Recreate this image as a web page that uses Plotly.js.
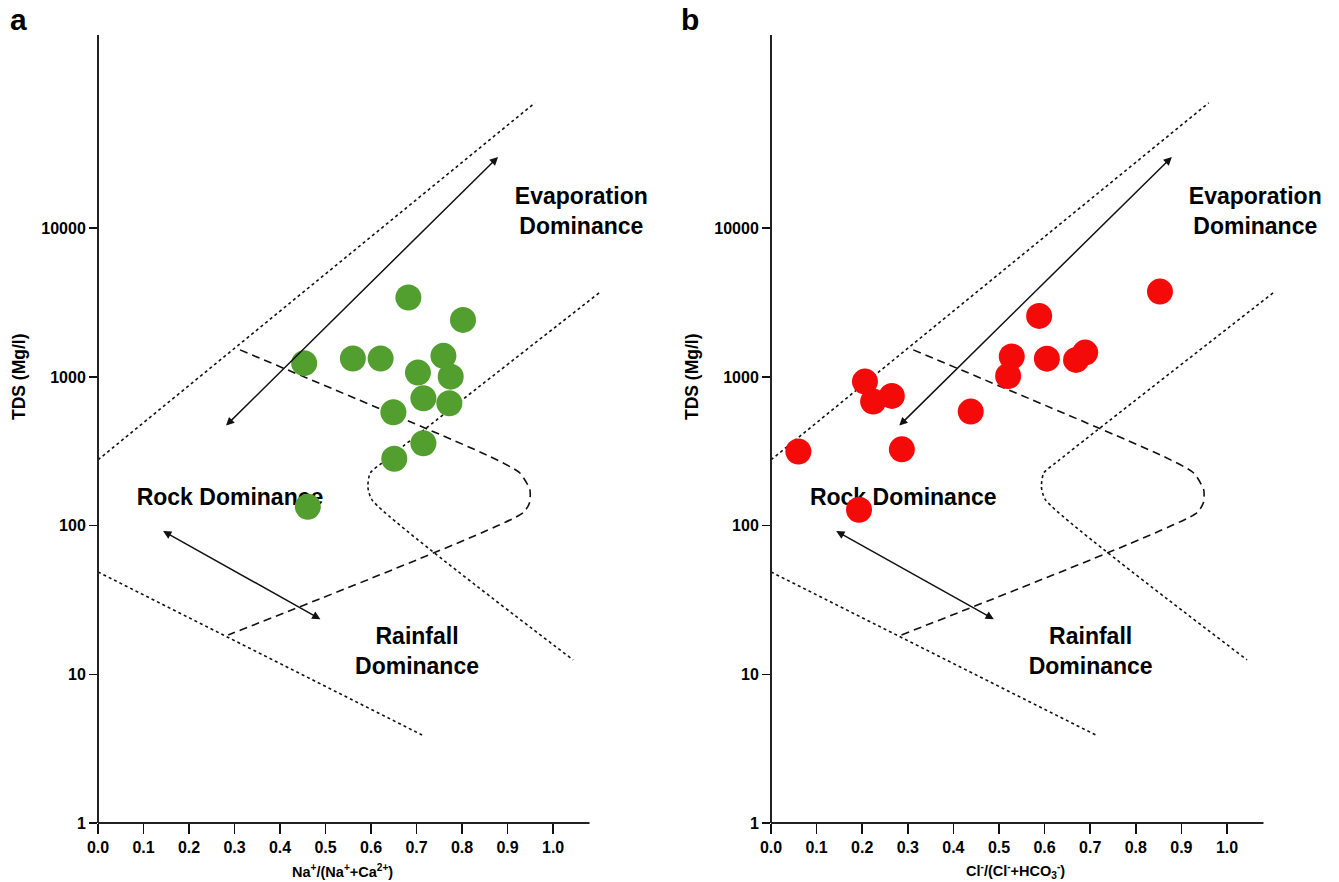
<!DOCTYPE html>
<html>
<head>
<meta charset="utf-8">
<script src="https://cdn.plot.ly/plotly-3.0.1.min.js"></script>
<style>html,body{margin:0;padding:0;background:#fff}#chart{width:1339px;height:882px}</style>
</head>
<body>
<div id="chart"></div>
<script>
// ---- Sample data (TDS in mg/l) ----
const naRatio = [0.682, 0.802, 0.453, 0.560, 0.621, 0.759, 0.703, 0.775, 0.715, 0.772, 0.649, 0.715, 0.651, 0.461];
const tdsA    = [3420, 2420, 1238, 1330, 1330, 1387, 1070, 1005, 719, 666, 579, 358, 282, 134];
const clRatio = [0.853, 0.588, 0.528, 0.520, 0.605, 0.669, 0.689, 0.206, 0.265, 0.224, 0.438, 0.060, 0.287, 0.193];
const tdsB    = [3750, 2575, 1372, 1016, 1328, 1302, 1458, 931, 746, 683, 585, 315, 326, 128];

// ---- Gibbs boundary curves ----
const upperX = [0, 0.960];
const upperY = [277, 69800];
const lowerX = [0, 0.712];
const lowerY = [48.8, 3.91];
const rightX = [1.101, 0.624, 0.598, 0.593, 0.602, 1.044];
const rightY = [3675, 264, 226, 182, 149, 12.5];
const dashX  = [0.312, 0.862, 0.927, 0.949, 0.948, 0.934, 0.286];
const dashY  = [1521, 291, 226, 174, 142, 122, 18.4];

// ---- Arrows: [x_head1, tds_head1, x_head2, tds_head2] ----
const evapArrow = [0.879, 30200, 0.278, 460];
const rainArrow = [0.143, 92, 0.492, 23.2];

// ---- Region labels ----
const regionText = ['Evaporation<br>Dominance', 'Rock Dominance', 'Rainfall<br>Dominance'];
const regionX = [1.062, 0.290, 0.701];
const regionY = [12600, 150, 13.9];

// ---- Axis ticks ----
const xTickVals = [0, 0.1, 0.2, 0.3, 0.4, 0.5, 0.6, 0.7, 0.8, 0.9, 1.0];
const xTickText = ['0.0','0.1','0.2','0.3','0.4','0.5','0.6','0.7','0.8','0.9','1.0'];
const yTickVals = [1, 10, 100, 1000, 10000];
const yTickText = ['1', '10', '100', '1000', '10000'];

const FONT = 'Liberation Sans, Arial, Helvetica, sans-serif';
const W = 1339, H = 882;

function panelTraces(xa, ya, px, py, color) {
  const base = {xaxis: xa, yaxis: ya, hoverinfo: 'skip', showlegend: false};
  return [
    Object.assign({type: 'scatter', mode: 'lines', x: upperX, y: upperY,
      line: {color: '#111', width: 1.6, dash: 'dot'}}, base),
    Object.assign({type: 'scatter', mode: 'lines', x: lowerX, y: lowerY,
      line: {color: '#111', width: 1.6, dash: 'dot'}}, base),
    Object.assign({type: 'scatter', mode: 'lines', x: rightX, y: rightY,
      line: {color: '#111', width: 1.6, dash: 'dot', shape: 'spline', smoothing: 0.6}}, base),
    Object.assign({type: 'scatter', mode: 'lines', x: dashX, y: dashY,
      line: {color: '#111', width: 1.6, dash: '8px,5px', shape: 'spline', smoothing: 0.6}}, base),
    Object.assign({type: 'scatter', mode: 'text', x: regionX, y: regionY, text: regionText,
      textposition: 'middle center', cliponaxis: false,
      textfont: {family: FONT, size: 23, color: '#000', weight: 'bold'}}, base),
    Object.assign({type: 'scatter', mode: 'markers', x: px, y: py, cliponaxis: false,
      marker: {color: color, size: 26, line: {width: 0}}}, base)
  ];
}

const data = [].concat(
  panelTraces('x', 'y', naRatio, tdsA, '#529e2f'),
  panelTraces('x2', 'y2', clRatio, tdsB, '#f50a0a')
);

function xAxis(d0, d1) {
  return {domain: [d0, d1], range: [0, 1.125], showline: false, showgrid: false, zeroline: false,
    tickmode: 'array', tickvals: xTickVals, ticktext: xTickText, ticks: 'outside', ticklen: 10,
    tickwidth: 1.6, tickcolor: '#111', tickfont: {family: FONT, size: 16, color: '#000', weight: 'bold'}};
}
function yAxis(anchor) {
  return {anchor: anchor, type: 'log', domain: [(H - 823) / H, (H - 35) / H], range: [0, 5.30],
    showline: false, showgrid: false, zeroline: false, tickmode: 'array', tickvals: yTickVals,
    ticktext: yTickText, ticks: 'outside', ticklen: 8, tickwidth: 1.6, tickcolor: '#111',
    tickfont: {family: FONT, size: 16, color: '#000', weight: 'bold'}};
}

function arrowAnn(xr, yr, a) {
  return {xref: xr, yref: yr, axref: xr, ayref: yr,
    x: a[0], y: Math.log10(a[1]), ax: a[2], ay: Math.log10(a[3]),
    text: '', showarrow: true, arrowside: 'end+start', arrowhead: 2, startarrowhead: 2,
    arrowsize: 1.1, startarrowsize: 1.1, arrowwidth: 1.5, arrowcolor: '#111'};
}

const axisShapes = [];
[['x', 'y'], ['x2', 'y2']].forEach(([xr, yr]) => {
  axisShapes.push({type: 'line', xref: xr, yref: yr + ' domain', x0: 0, x1: 1.08, y0: 0, y1: 0,
    line: {color: '#222', width: 2}});
  axisShapes.push({type: 'line', xref: xr + ' domain', yref: yr + ' domain', x0: 0, x1: 0, y0: 0, y1: 1,
    line: {color: '#222', width: 2}});
});

const txt = (s, x, y, size, angle) => ({xref: 'paper', yref: 'paper', x: x / W, y: 1 - y / H,
  text: s, showarrow: false, textangle: angle || 0, xanchor: 'center', yanchor: 'middle',
  font: {family: FONT, size: size, color: '#000', weight: 'bold'}});

const layout = {
  width: W, height: H, margin: {l: 0, r: 0, t: 0, b: 0},
  paper_bgcolor: '#fff', plot_bgcolor: 'rgba(0,0,0,0)', showlegend: false,
  xaxis: xAxis(98 / W, 610 / W),
  yaxis: yAxis('x'),
  xaxis2: Object.assign(xAxis(771 / W, 1284 / W), {anchor: 'y2'}),
  yaxis2: yAxis('x2'),
  shapes: axisShapes,
  annotations: [
    arrowAnn('x', 'y', evapArrow), arrowAnn('x', 'y', rainArrow),
    arrowAnn('x2', 'y2', evapArrow), arrowAnn('x2', 'y2', rainArrow),
    txt('a', 18, 20, 30), txt('b', 690, 20, 30),
    txt('TDS (Mg/l)', 19, 377, 17.5, -90), txt('TDS (Mg/l)', 692, 377, 17.5, -90),
    txt('Na<sup>+</sup>/(Na<sup>+</sup>+Ca<sup>2+</sup>)', 342, 871, 14.5),
    txt('Cl<sup>-</sup>/(Cl<sup>-</sup>+HCO<sub>3</sub><sup>-</sup>)', 1015, 871, 14.5)
  ]
};

Plotly.newPlot('chart', data, layout, {displayModeBar: false, staticPlot: true});
</script>
</body>
</html>
